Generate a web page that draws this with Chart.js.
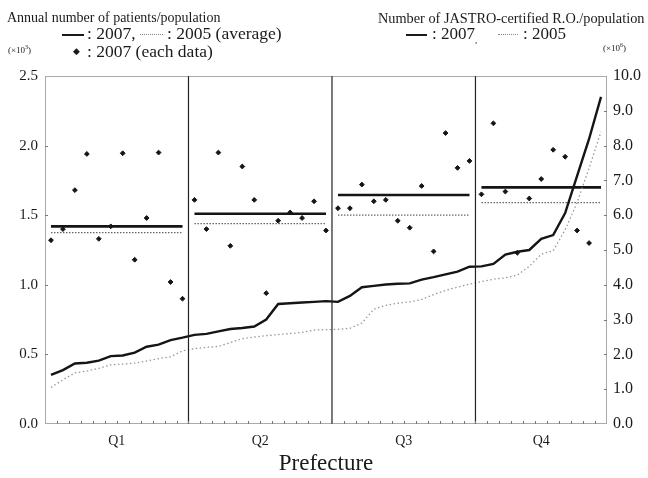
<!DOCTYPE html>
<html lang="en">
  <head>
    <meta charset="UTF-8" />
    <title>Patients and JASTRO-certified R.O. per population</title>
    <style>
      body {
        margin: 0;
        background-color: #ffffff;
      }
      #wrap {
        position: relative;
        width: 648px;
        height: 478px;
        font-family: "Liberation Serif", "DejaVu Serif", serif;
        color: #1a1a1a;
      }
      .txt {
        position: absolute;
        white-space: nowrap;
        line-height: 1;
      }
      .solid {
        position: absolute;
        height: 0;
        border-top: 2px solid #1a1a1a;
      }
      .dots {
        position: absolute;
        height: 0;
        border-top: 1px dotted #888888;
      }
    </style>
    <script src="https://cdn.jsdelivr.net/npm/chart.js"></script>
  </head>
  <body>
    <div id="wrap">
      <canvas id="chart" width="648" height="478"></canvas>

      <div class="txt" style="left:7px; top:11px; font-size:14px">Annual number of patients/population</div>
      <div class="solid" style="left:62px; top:34px; width:22px"></div>
      <div class="txt" style="left:87px; top:25px; font-size:17.5px">: 2007,</div>
      <div class="dots" style="left:140px; top:34px; width:23px"></div>
      <div class="txt" style="left:167px; top:25px; font-size:17.5px">: 2005 (average)</div>
      <div class="txt" style="left:8px; top:44px; font-size:9px">(&times;10<sup style="font-size:6px">3</sup>)</div>
      <div class="txt" style="left:73px; top:47px; font-size:9px">&#9670;</div>
      <div class="txt" style="left:87px; top:43px; font-size:17.5px">: 2007 (each data)</div>

      <div class="txt" style="left:378px; top:11px; font-size:14.3px">Number of JASTRO-certified R.O./population</div>
      <div class="solid" style="left:406px; top:34px; width:21px"></div>
      <div class="txt" style="left:432px; top:25px; font-size:17px">: 2007<sub style="font-size:9px">,</sub></div>
      <div class="dots" style="left:498px; top:34px; width:20px"></div>
      <div class="txt" style="left:523px; top:25px; font-size:17px">: 2005</div>
      <div class="txt" style="left:603px; top:42px; font-size:9px">(&times;10<sup style="font-size:6px">6</sup>)</div>
    </div>

    <script>
      // quartiles of prefectures
      const quartileLabels = ["Q1", "Q2", "Q3", "Q4"];
      const quartileSizes = [12, 12, 12, 11];

      // annual number of patients / population (x10^3), quartile averages
      const mean2007 = [1.42, 1.51, 1.645, 1.70];
      const mean2005 = [1.375, 1.44, 1.50, 1.59];

      // 2007 each prefecture (left axis)
      const each2007 = [
        1.32, 1.40, 1.68, 1.94, 1.33, 1.42, 1.945, 1.18, 1.48, 1.95, 1.02, 0.90,
        1.61, 1.40, 1.95, 1.28, 1.85, 1.61, 0.94, 1.46, 1.52, 1.48, 1.60, 1.39,
        1.55, 1.55, 1.72, 1.60, 1.61, 1.46, 1.41, 1.71, 1.24, 2.09, 1.84, 1.89,
        1.65, 2.16, 1.67, 1.23, 1.62, 1.76, 1.97, 1.92, 1.39, 1.30, null
      ];

      // JASTRO-certified R.O. / population (x10^6), right axis
      const ro2007 = [
        1.41, 1.55, 1.74, 1.76, 1.82, 1.95, 1.97, 2.05, 2.22, 2.28, 2.41, 2.48,
        2.56, 2.59, 2.66, 2.73, 2.76, 2.80, 3.00, 3.45, 3.47, 3.49, 3.51, 3.53,
        3.51, 3.68, 3.93, 3.97, 4.01, 4.03, 4.04, 4.15, 4.22, 4.30, 4.38, 4.52,
        4.53, 4.60, 4.87, 4.95, 5.00, 5.32, 5.43, 6.06, 7.13, 8.19, 9.40
      ];
      const ro2005 = [
        1.05, 1.27, 1.47, 1.52, 1.60, 1.70, 1.72, 1.75, 1.81, 1.88, 1.93, 2.10,
        2.17, 2.20, 2.23, 2.34, 2.45, 2.50, 2.54, 2.57, 2.60, 2.63, 2.70, 2.71,
        2.72, 2.75, 2.90, 3.30, 3.41, 3.47, 3.51, 3.58, 3.72, 3.84, 3.93, 4.02,
        4.09, 4.16, 4.20, 4.28, 4.53, 4.88, 4.98, 5.58, 6.36, 7.35, 8.40
      ];

      const nPref = ro2007.length;

      // quartile start/end positions on the prefecture scale
      const qStart = [];
      let acc = 0;
      quartileSizes.forEach((n) => {
        qStart.push(acc);
        acc += n;
      });
      const qCenters = quartileSizes.map((n, i) => qStart[i] + n / 2);

      const meanSegments = (means) => {
        const pts = [];
        means.forEach((m, i) => {
          pts.push({ x: qStart[i] + 0.5, y: m });
          pts.push({ x: qStart[i] + quartileSizes[i] - 0.5, y: m });
          pts.push({ x: qStart[i] + quartileSizes[i], y: null });
        });
        return pts;
      };

      const dividers = [];
      qStart.slice(1).forEach((s) => {
        dividers.push({ x: s, y: 0 }, { x: s, y: 2.5 }, { x: s, y: null });
      });

      const serif = "'Liberation Serif', 'DejaVu Serif', serif";

      // plot frame and the small inward ticks
      const framePlugin = {
        id: "frame",
        afterDatasetsDraw(chart) {
          const { ctx, chartArea: a, scales } = chart;
          ctx.save();
          ctx.strokeStyle = "#555";
          ctx.lineWidth = 1;
          ctx.setLineDash([1, 1]);
          ctx.strokeRect(a.left + 0.5, a.top + 0.5, a.right - a.left - 1, a.bottom - a.top - 1);
          ctx.setLineDash([]);
          ctx.strokeStyle = "#777";
          ctx.beginPath();
          for (let i = 1; i < nPref; i++) {
            const px = Math.round(scales.x.getPixelForValue(i)) + 0.5;
            ctx.moveTo(px, a.bottom);
            ctx.lineTo(px, a.bottom - 3);
          }
          for (let v = 0.5; v < 2.5; v += 0.5) {
            const py = Math.round(scales.y.getPixelForValue(v)) + 0.5;
            ctx.moveTo(a.left, py);
            ctx.lineTo(a.left + 3, py);
          }
          for (let v = 1; v < 10; v += 1) {
            const py = Math.round(scales.y2.getPixelForValue(v)) + 0.5;
            ctx.moveTo(a.right, py);
            ctx.lineTo(a.right - 3, py);
          }
          ctx.stroke();
          ctx.restore();
        },
      };

      const ctx = document.getElementById("chart").getContext("2d");
      const chart = new Chart(ctx, {
        type: "scatter",
        data: {
          datasets: [
            {
              label: "dividers",
              type: "line",
              data: dividers,
              yAxisID: "y",
              borderColor: "#222",
              borderWidth: 1.2,
              pointRadius: 0,
              spanGaps: false,
            },
            {
              label: "R.O. 2005",
              type: "line",
              data: ro2005.map((v, i) => ({ x: i + 0.5, y: v })),
              yAxisID: "y2",
              borderColor: "#999",
              borderWidth: 1.3,
              borderDash: [1.5, 2.5],
              pointRadius: 0,
              tension: 0,
            },
            {
              label: "R.O. 2007",
              type: "line",
              data: ro2007.map((v, i) => ({ x: i + 0.5, y: v })),
              yAxisID: "y2",
              borderColor: "#151515",
              borderWidth: 2.4,
              pointRadius: 0,
              tension: 0,
            },
            {
              label: "2005 (average)",
              type: "line",
              data: meanSegments(mean2005),
              yAxisID: "y",
              borderColor: "#666",
              borderWidth: 1.3,
              borderDash: [1.5, 1.5],
              pointRadius: 0,
              spanGaps: false,
            },
            {
              label: "2007 (average)",
              type: "line",
              data: meanSegments(mean2007),
              yAxisID: "y",
              borderColor: "#151515",
              borderWidth: 2.6,
              pointRadius: 0,
              spanGaps: false,
            },
            {
              label: "2007 (each data)",
              data: each2007.map((v, i) => ({ x: i + 0.5, y: v })),
              yAxisID: "y",
              backgroundColor: "#151515",
              borderColor: "#151515",
              pointStyle: "rectRot",
              pointRadius: 2.4,
            },
          ],
        },
        options: {
          responsive: false,
          animation: false,
          layout: { padding: { top: 76, left: 0, right: 0, bottom: 0 } },
          plugins: {
            legend: { display: false },
            tooltip: { enabled: false },
          },
          scales: {
            x: {
              type: "linear",
              min: 0,
              max: nPref,
              grid: { display: false, drawTicks: false },
              border: { display: false },
              afterBuildTicks: (scale) => {
                scale.ticks = qCenters.map((v) => ({ value: v }));
              },
              afterFit: (scale) => {
                scale.height = 54;
              },
              ticks: {
                autoSkip: false,
                maxRotation: 0,
                padding: 9,
                color: "#1a1a1a",
                font: { family: serif, size: 14 },
                callback: (v, i) => quartileLabels[i],
              },
              title: {
                display: true,
                text: "Prefecture",
                color: "#1a1a1a",
                font: { family: serif, size: 23 },
                padding: { top: 0, bottom: 0 },
              },
            },
            y: {
              position: "left",
              min: 0,
              max: 2.5,
              grid: { display: false, drawTicks: false },
              border: { display: false },
              afterFit: (scale) => {
                scale.width = 45;
              },
              ticks: {
                stepSize: 0.5,
                padding: 7,
                color: "#1a1a1a",
                font: { family: serif, size: 15 },
                callback: (v) => v.toFixed(1),
              },
            },
            y2: {
              position: "right",
              min: 0,
              max: 10,
              grid: { display: false, drawTicks: false },
              border: { display: false },
              afterFit: (scale) => {
                scale.width = 41;
              },
              ticks: {
                stepSize: 1,
                padding: 6,
                color: "#1a1a1a",
                font: { family: serif, size: 16 },
                callback: (v) => v.toFixed(1),
              },
            },
          },
        },
        plugins: [framePlugin],
      });
    </script>
  </body>
</html>
